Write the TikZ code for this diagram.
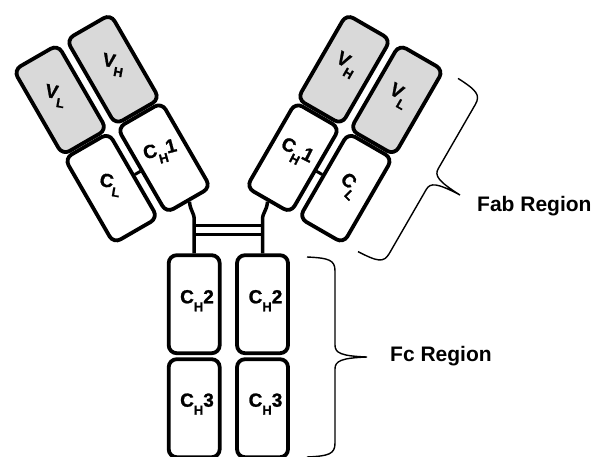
\documentclass[tikz,border=0pt]{standalone}
\usepackage{fontspec}
\setmainfont{Liberation Sans}
\newfontfamily\labfont[BoldFeatures={FakeBold=1.2}]{Liberation Sans}
\usetikzlibrary{backgrounds}
\newcommand{\ablab}[3]{#1\raisebox{-8pt}{\fontsize{13}{13}\selectfont #2}#3}
\begin{document}
\begin{tikzpicture}[x=1pt,y=-1pt,
  dom/.style={draw, line width=3.8pt, rounded corners=8pt, minimum width=51pt, minimum height=98pt, inner sep=0pt},
  vdom/.style={dom, fill=gray!30},
  cdom/.style={dom, fill=white},
  lab/.style={font=\labfont\bfseries\fontsize{19}{19}\selectfont, inner sep=0pt},
  link/.style={line width=3.5pt},
  sslink/.style={line width=3pt},
  bracepath/.style={line width=1.4pt},
  region/.style={font=\bfseries\fontsize{21}{21}\selectfont, anchor=base west, inner sep=0pt},
  regionbrace/.pic={\draw[bracepath] (-60,-100) .. controls (-38,-99) and (-32,-97) .. (-32,-86) -- (-32,-12) .. controls (-32,-4) and (-26,-1) .. (0,0) .. controls (-26,1) and (-32,4) .. (-32,12) -- (-32,86) .. controls (-32,97) and (-38,99) .. (-60,100);}]
\useasboundingbox (0,0) rectangle (593,456);

% Fc region
\node[cdom] (CH2L) at (194.2,304.2) {};
\node[cdom] (CH3L) at (194.2,408.2) {};
\node[cdom] (CH2R) at (262.5,304.2) {};
\node[cdom] (CH3R) at (262.5,408.2) {};
\node[lab, anchor=base] (tCH2L) at (197,303.3) {\ablab{C}{H}{2}};
\node[lab, anchor=base] (tCH3L) at (197,406.7) {\ablab{C}{H}{3}};
\node[lab, anchor=base] (tCH2R) at (265.5,303.3) {\ablab{C}{H}{2}};
\node[lab, anchor=base] (tCH3R) at (265.5,406.7) {\ablab{C}{H}{3}};

% left Fab arm
\begin{scope}[shift={(112.1,128.75)}, rotate=30]
  \node[vdom, rotate=30] (VLL) at (-30.5,-51) {};
  \node[vdom, rotate=30] (VHL) at (30.5,-51) {};
  \node[cdom, rotate=30] (CLL) at (-30.5,51) {};
  \node[cdom, rotate=30] (CH1L) at (30.5,51) {};
\end{scope}
% right Fab arm
\begin{scope}[shift={(344.9,128.75)}, rotate=-30]
  \node[vdom, rotate=-30] (VHR) at (-30.5,-51) {};
  \node[vdom, rotate=-30] (VLR) at (30.5,-51) {};
  \node[cdom, rotate=-30] (CH1R) at (-30.5,51) {};
  \node[cdom, rotate=-30] (CLR) at (30.5,51) {};
\end{scope}

\node[lab, rotate=-10] (tVLL) at (55,96) {\ablab{V}{L}{}};
\node[lab, rotate=-10] (tVHL) at (113,65) {\ablab{V}{H}{}};
\node[lab, rotate=-10] (tCLL) at (110,185) {\ablab{C}{L}{}};
\node[lab, rotate=15] (tCH1L) at (160.7,152.7) {\ablab{C}{H}{1}};
\node[lab, rotate=-30] (tVHR) at (345.7,65) {\ablab{V}{H}{}};
\node[lab, rotate=-30] (tVLR) at (398.3,96) {\ablab{V}{L}{}};
\node[lab, rotate=-27] (tCH1R) at (296,153) {\ablab{C}{H}{1}};
\node[lab, rotate=-45] (tCLR) at (349,186) {\ablab{C}{L}{}};

% hinge
\coordinate (hL) at (194.2,220);
\coordinate (hR) at (262.5,220);
\coordinate (d1L) at (194.2,225);
\coordinate (d1R) at (262.5,225);
\coordinate (d2L) at (194.2,234.3);
\coordinate (d2R) at (262.5,234.3);
\begin{scope}[on background layer]
  \draw[link] (CH1L.south) .. controls +(1,10) and +(0,-8) .. (hL) -- (CH2L.north);
  \draw[link] (CH1R.south) .. controls +(-1,10) and +(0,-8) .. (hR) -- (CH2R.north);
  \draw[sslink] (d1L) -- (d1R);
  \draw[sslink] (d2L) -- (d2R);
  \draw[sslink] (CLL.east) -- (CH1L.west);
  \draw[sslink] (CH1R.east) -- (CLR.west);
\end{scope}

% braces and region labels
\pic at (367,357) {regionbrace};
\pic[rotate=-30] at (460,195) {regionbrace};
\node[region] (fab) at (477,211.7) {Fab Region};
\node[region] (fc) at (390,361.7) {Fc Region};
\end{tikzpicture}
\end{document}
